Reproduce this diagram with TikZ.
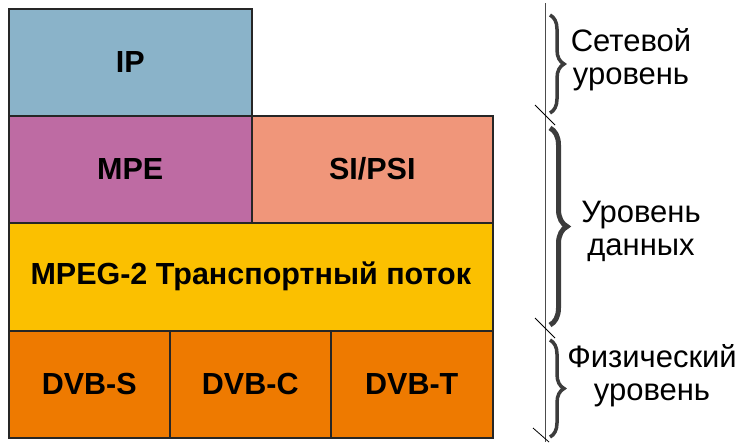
\documentclass[tikz,border=0pt]{standalone}
\usepackage{fontspec}
\setmainfont{Liberation Sans}
\usetikzlibrary{decorations.pathreplacing}

\definecolor{ipblue}{RGB}{138,179,201}
\definecolor{mpepink}{RGB}{190,107,163}
\definecolor{sisalmon}{RGB}{240,150,122}
\definecolor{tsyellow}{RGB}{251,192,0}
\definecolor{dvborange}{RGB}{238,122,0}
\definecolor{bracegray}{RGB}{60,60,60}

\tikzset{
  layer/.style={draw=black!85, line width=1.5pt, anchor=north west, inner sep=0pt,
    font=\fontsize{30.5}{33}\selectfont\bfseries},
  levelbrace/.style={decorate, decoration={brace, amplitude=14pt}, draw=bracegray, line width=3.5pt},
  leveltext/.style={align=center, font=\fontsize{31}{33}\selectfont},
}

\begin{document}
\begin{tikzpicture}[x=1pt,y=-1pt]
    \useasboundingbox (0,0) rectangle (736,442);

    % layers
    \node[layer, fill=ipblue, minimum width=243pt, minimum height=107pt] (ip) at (8,8) {IP};
    \node[layer, fill=mpepink, minimum width=243pt, minimum height=107pt] (mpe) at (8,115) {MPE};
    \node[layer, fill=sisalmon, minimum width=241pt, minimum height=107pt] (sipsi) at (251,115) {SI/PSI};
    \node[layer, fill=tsyellow, minimum width=484pt, minimum height=108pt] (ts) at (8,222) {MPEG-2 Транспортный поток};
    \node[layer, fill=dvborange, minimum width=161pt, minimum height=107pt] (dvbs) at (8,330) {DVB-S};
    \node[layer, fill=dvborange, minimum width=161pt, minimum height=107pt] (dvbc) at (169,330) {DVB-C};
    \node[layer, fill=dvborange, minimum width=162pt, minimum height=107pt] (dvbt) at (330,330) {DVB-T};

    % scale on the right
    \coordinate (top) at (545,3);
    \coordinate (bottom) at (545,442);
    \draw[black!70, line width=0.8pt] (top) -- (bottom);
    \draw[line width=0.8pt] (535,105) -- (555,125);
    \draw[line width=0.8pt] (535,318) -- (555,338);
    \draw[line width=0.8pt] (533,428) -- (549,442);

    \draw[levelbrace] (550,15) -- (550,113);
    \draw[levelbrace, line width=5pt, decoration={amplitude=17pt}] (550,128) -- (550,325);
    \draw[levelbrace] (550,340) -- (550,437);

    \node[leveltext] (net) at (631,60) {Сетевой\\уровень};
    \node[leveltext] (data) at (641,231) {Уровень\\данных};
    \node[leveltext] (phys) at (652,376) {Физический\\уровень};
\end{tikzpicture}
\end{document}
